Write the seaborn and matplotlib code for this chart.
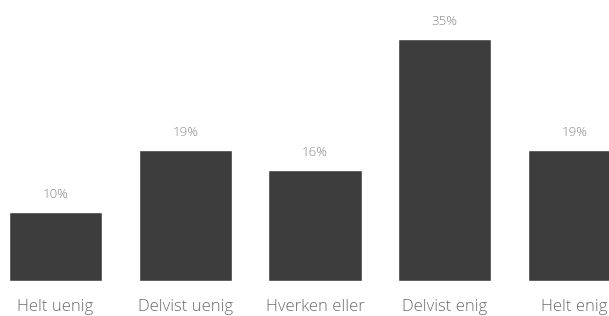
import matplotlib
matplotlib.use("Agg")
import matplotlib.pyplot as plt
import seaborn as sns
import pandas as pd

categories = ["Helt uenig", "Delvist uenig", "Hverken eller", "Delvist enig", "Helt enig"]
shares = [10, 19, 16, 35, 19]
value_labels = ["10%", "19%", "16%", "35%", "19%"]

sns.set_style("white")
plt.rcParams["font.family"] = ["Open Sans", "DejaVu Sans"]
plt.rcParams["font.weight"] = "light"

df = pd.DataFrame({"category": categories, "share": shares})

W, H = 609, 316
fig = plt.figure(figsize=(W / 100, H / 100), dpi=100)
# axes runs past the right edge so the last bar is cut off like the reference
ax = fig.add_axes([-9.3 / W, 35 / H, 648.6 / W, 242 / H])

sns.barplot(data=df, x="category", y="share", color="#3d3d3d",
            saturation=1, width=0.72, ax=ax)

ax.set_xlim(-0.5, 4.5)
ax.set_ylim(0, 35)
ax.set_xlabel("")
ax.set_ylabel("")
ax.set_yticks([])
sns.despine(ax=ax, left=True, bottom=True)
ax.tick_params(axis="x", length=0, pad=13, labelsize=12, labelcolor="#6b6b6b")

ax.bar_label(ax.containers[0], labels=value_labels, padding=8,
             fontsize=9.5, color="#858585", clip_on=False)

fig.savefig("out.png", dpi=100)
